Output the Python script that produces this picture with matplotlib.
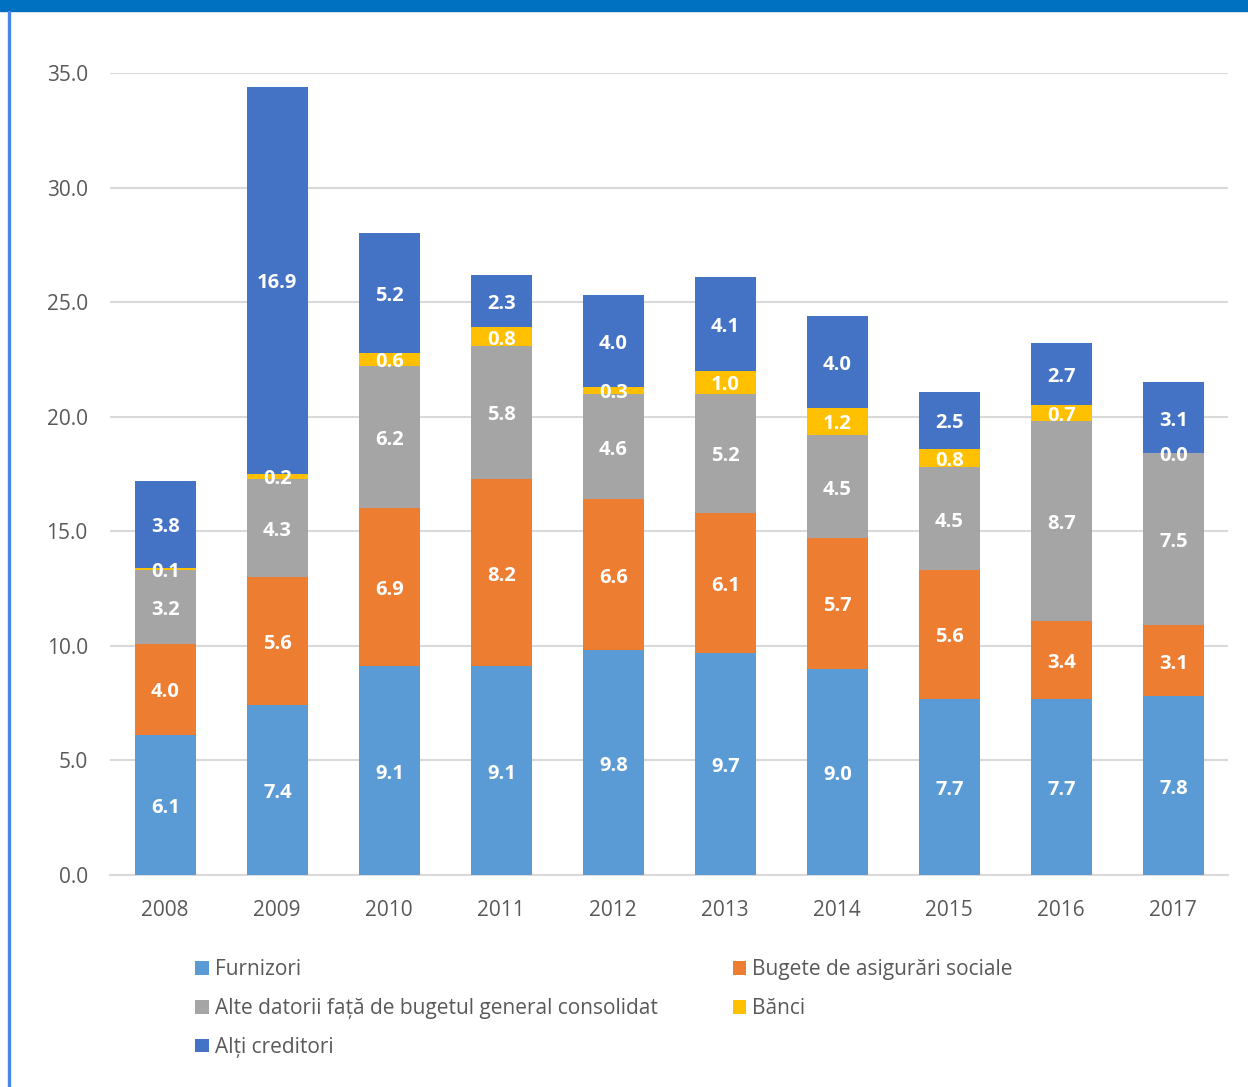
import matplotlib
matplotlib.use("Agg")
import matplotlib.pyplot as plt
from matplotlib.patches import Rectangle
from matplotlib.transforms import offset_copy
import numpy as np

plt.rcParams['font.family'] = ['Open Sans', 'DejaVu Sans']

years = ['2008', '2009', '2010', '2011', '2012', '2013', '2014', '2015', '2016', '2017']
furnizori = [6.1, 7.4, 9.1, 9.1, 9.8, 9.7, 9.0, 7.7, 7.7, 7.8]
bugete = [4.0, 5.6, 6.9, 8.2, 6.6, 6.1, 5.7, 5.6, 3.4, 3.1]
alte = [3.2, 4.3, 6.2, 5.8, 4.6, 5.2, 4.5, 4.5, 8.7, 7.5]
banci = [0.1, 0.2, 0.6, 0.8, 0.3, 1.0, 1.2, 0.8, 0.7, 0.0]
alti = [3.8, 16.9, 5.2, 2.3, 4.0, 4.1, 4.0, 2.5, 2.7, 3.1]

series = [
    ('Furnizori', furnizori, '#5B9BD5'),
    ('Bugete de asigurări sociale', bugete, '#ED7D31'),
    ('Alte datorii față de bugetul general consolidat', alte, '#A5A5A5'),
    ('Bănci', banci, '#FFC000'),
    ('Alți creditori', alti, '#4472C4'),
]

W, H = 1248, 1087
fig = plt.figure(figsize=(W / 100, H / 100), dpi=100)
ax = fig.add_axes([110 / W, 1 - 875 / H, (1228 - 110) / W, (875 - 73) / H])

label_tr = offset_copy(ax.transData, fig=fig, x=0.5, y=-3, units='dots')

x = np.arange(len(years))
bottom = np.zeros(len(years))
handles = {}
for name, vals, col in series:
    vals = np.array(vals)
    bars = ax.bar(x + 0.005, vals, 0.55, bottom=bottom, color=col, label=name, zorder=3)
    handles[name] = bars
    for xi, b, v in zip(x, bottom, vals):
        ax.text(xi, b + v / 2, f'{v:.1f}', ha='center', va='center', transform=label_tr,
                color='white', fontsize=14.5, fontweight='bold', zorder=5)
    bottom += vals

ax.set_xlim(-0.49, len(years) - 0.51)
ax.set_ylim(0, 35)
ax.set_yticks(np.arange(0, 35.1, 5))
ax.set_yticklabels([f'{v:.1f}' for v in np.arange(0, 35.1, 5)])
ax.set_xticks(x)
ax.set_xticklabels(years)
ax.grid(axis='y', color='#D9D9D9', linewidth=1.5, zorder=0)
for s in ['top', 'right', 'left']:
    ax.spines[s].set_visible(False)
ax.spines['bottom'].set_color('#D9D9D9')
ax.spines['bottom'].set_linewidth(1.5)
ax.tick_params(axis='both', length=0, labelsize=15, labelcolor='#595959')
ax.tick_params(axis='y', pad=16)
ax.tick_params(axis='x', pad=18)

order = ['Furnizori', 'Alte datorii față de bugetul general consolidat', 'Alți creditori',
         'Bugete de asigurări sociale', 'Bănci']
leg = fig.legend([handles[n] for n in order], order, loc='upper left',
                 bbox_to_anchor=(195 / W, 1 - 959 / H), ncol=2, frameon=False,
                 fontsize=15, labelcolor='#595959', handlelength=0.65, handleheight=0.65,
                 handletextpad=0.3, labelspacing=0.86, columnspacing=3.6,
                 borderpad=0, borderaxespad=0)

# frame decorations
fig.add_artist(Rectangle((0, 1 - 11 / H), 1, 11 / H, transform=fig.transFigure,
                         color='#0070C0', zorder=10))
fig.add_artist(Rectangle((8 / W, 0), 2 / W, 1 - 11 / H, transform=fig.transFigure,
                         color='#4A86E8', zorder=10))

fig.savefig('out.png', dpi=100)
